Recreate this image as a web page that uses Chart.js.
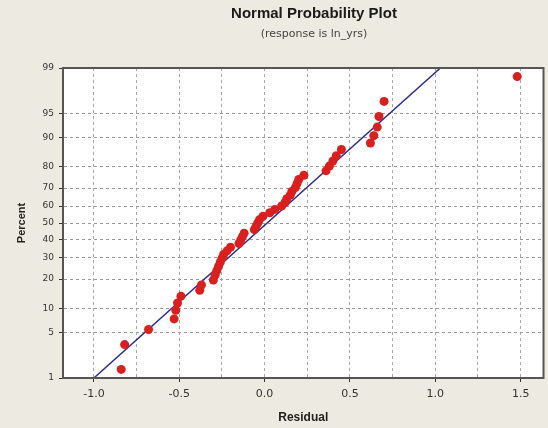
<!DOCTYPE html>
<html>
<head>
<meta charset="utf-8">
<script src="https://cdn.jsdelivr.net/npm/chart.js@4/dist/chart.umd.min.js"></script>
<style>
html,body{margin:0;padding:0;background:#EDEAE1;}
#wrap{width:548px;height:428px;position:relative;}
canvas{display:block;}
</style>
</head>
<body>
<div id="wrap"><canvas id="c" width="548" height="428"></canvas></div>
<script>
// ---- data ----
const residuals = [-0.84,-0.82,-0.68,-0.53,-0.52,-0.51,-0.49,-0.38,-0.37,-0.30,
  -0.29,-0.28,-0.27,-0.26,-0.25,-0.24,-0.22,-0.20,-0.15,-0.14,
  -0.13,-0.12,-0.06,-0.05,-0.04,-0.03,-0.01,0.03,0.06,0.10,
  0.12,0.13,0.15,0.16,0.18,0.19,0.20,0.23,0.36,0.38,
  0.40,0.42,0.45,0.62,0.64,0.66,0.67,0.70,1.48];
const percents = [1.4,3.4,5.5,7.5,9.5,11.5,13.6,15.6,17.6,19.6,
  21.7,23.7,25.7,27.7,29.8,31.8,33.8,35.8,37.9,39.9,
  41.9,43.9,46.0,48.0,50.0,52.0,54.0,56.1,58.1,60.1,
  62.1,64.2,66.2,68.2,70.2,72.3,74.3,76.3,78.3,80.4,
  82.4,84.4,86.5,88.5,90.5,92.5,94.5,96.6,98.6];
const fitResiduals = [-1.0, 1.03];
const fitPercents = [1, 99];
const xTickValues = [-1.0,-0.75,-0.5,-0.25,0,0.25,0.5,0.75,1.0,1.25,1.5];
const xLabelValues = [-1.0,-0.5,0,0.5,1.0,1.5];
const yTickPercents = [1,5,10,20,30,40,50,60,70,80,90,95,99];
const titleText = 'Normal Probability Plot';
const subtitleText = '(response is ln_yrs)';
const xTitle = 'Residual';
const yTitle = 'Percent';

// inverse standard normal CDF (Acklam) used by the probability axis
function probit(p){
  const a=[-3.969683028665376e+01,2.209460984245205e+02,-2.759285104469687e+02,1.383577518672690e+02,-3.066479806614716e+01,2.506628277459239e+00];
  const b=[-5.447609879822406e+01,1.615858368580409e+02,-1.556989798598866e+02,6.680131188771972e+01,-1.328068155288572e+01];
  const c=[-7.784894002430293e-03,-3.223964580411365e-01,-2.400758277161838e+00,-2.549732539343734e+00,4.374664141464968e+00,2.938163982698783e+00];
  const d=[7.784695709041462e-03,3.224671290700398e-01,2.445134137142996e+00,3.754408661907416e+00];
  const pl=0.02425, ph=1-pl;
  let q,r;
  if(p<pl){q=Math.sqrt(-2*Math.log(p));return (((((c[0]*q+c[1])*q+c[2])*q+c[3])*q+c[4])*q+c[5])/((((d[0]*q+d[1])*q+d[2])*q+d[3])*q+1);}
  if(p<=ph){q=p-0.5;r=q*q;return (((((a[0]*r+a[1])*r+a[2])*r+a[3])*r+a[4])*r+a[5])*q/(((((b[0]*r+b[1])*r+b[2])*r+b[3])*r+b[4])*r+1);}
  q=Math.sqrt(-2*Math.log(1-p));return -(((((c[0]*q+c[1])*q+c[2])*q+c[3])*q+c[4])*q+c[5])/((((d[0]*q+d[1])*q+d[2])*q+d[3])*q+1);
}
const zOf = p => probit(p/100);

const points = residuals.map((x,i)=>({x:x, y:zOf(percents[i])}));
const fitLine = fitResiduals.map((x,i)=>({x:x, y:zOf(fitPercents[i])}));

const frame = {
  id:'frame',
  beforeDraw(chart){
    const {ctx, chartArea:a} = chart;
    ctx.save();
    ctx.fillStyle='#FFFFFF';
    ctx.fillRect(a.left,a.top,a.right-a.left,a.bottom-a.top);
    ctx.restore();
  },
  afterDraw(chart){
    const {ctx, chartArea:a} = chart;
    ctx.save();
    ctx.strokeStyle='#555555';
    ctx.lineWidth=2;
    ctx.strokeRect(a.left,a.top,a.right-a.left,a.bottom-a.top);
    ctx.textAlign='center';
    ctx.textBaseline='middle';
    ctx.fillStyle='#1a1a1a';
    ctx.font='bold 15px "Liberation Sans", Arial, sans-serif';
    ctx.fillText(titleText, 314, 14);
    ctx.fillStyle='#444';
    ctx.font='11px "DejaVu Sans", sans-serif';
    ctx.fillText(subtitleText, 314, 34);
    ctx.restore();
  }
};

new Chart(document.getElementById('c'), {
  type:'scatter',
  data:{
    datasets:[
      {
        type:'line', label:'Fit', data:fitLine,
        borderColor:'#2B2D8E', borderWidth:1.5, pointRadius:0, fill:false, order:2
      },
      {
        label:'Residuals', data:points,
        backgroundColor:'#DA1F1F', borderColor:'#C41414', borderWidth:0,
        pointRadius:4.5, pointHoverRadius:4.5, order:1
      }
    ]
  },
  options:{
    responsive:false,
    devicePixelRatio:1,
    animation:false,
    layout:{padding:{left:0,right:2,top:68,bottom:0}},
    plugins:{legend:{display:false}, tooltip:{enabled:false}, title:{display:false}},
    scales:{
      x:{
        type:'linear', min:-1.181, max:1.634,
        afterBuildTicks(s){ s.ticks = xTickValues.map(v=>({value:v})); },
        afterFit(s){ s.height = 50; },
        ticks:{
          autoSkip:false, maxRotation:0, padding:6,
          color:'#333', font:{family:'"DejaVu Sans", sans-serif', size:11},
          callback(v){ return xLabelValues.some(l=>Math.abs(l-v)<1e-9) ? v.toFixed(1) : ''; }
        },
        grid:{
          color:'#a8a8a8', lineWidth:1, tickLength:4,
          tickColor(ctx){ const v=ctx.tick && ctx.tick.value; return xLabelValues.some(l=>Math.abs(l-v)<1e-9) ? '#333' : 'rgba(0,0,0,0)'; }
        },
        border:{display:true, color:'#555555', width:2, dash:[3,3]},
        title:{display:true, text:xTitle, color:'#222', font:{family:'"Liberation Sans", Arial, sans-serif', size:12, weight:'bold'}, padding:{top:3,bottom:3}}
      },
      y:{
        type:'linear', min:zOf(1), max:zOf(99),
        afterBuildTicks(s){ s.ticks = yTickPercents.map(p=>({value:zOf(p)})); },
        afterFit(s){ s.width = 63; },
        ticks:{
          autoSkip:false, padding:5,
          color:'#333', font:{family:'"DejaVu Sans", sans-serif', size:9},
          callback(v, i){ return String(yTickPercents[i]); }
        },
        grid:{color:'#9a9a9a', lineWidth:1, tickLength:4, tickColor:'#333'},
        border:{display:true, color:'#555555', width:2, dash:[3,3]},
        title:{display:true, text:yTitle, color:'#222', font:{family:'"Liberation Sans", Arial, sans-serif', size:11, weight:'bold'}, padding:{top:15,bottom:15}}
      }
    }
  },
  plugins:[frame]
});
</script>
</body>
</html>
